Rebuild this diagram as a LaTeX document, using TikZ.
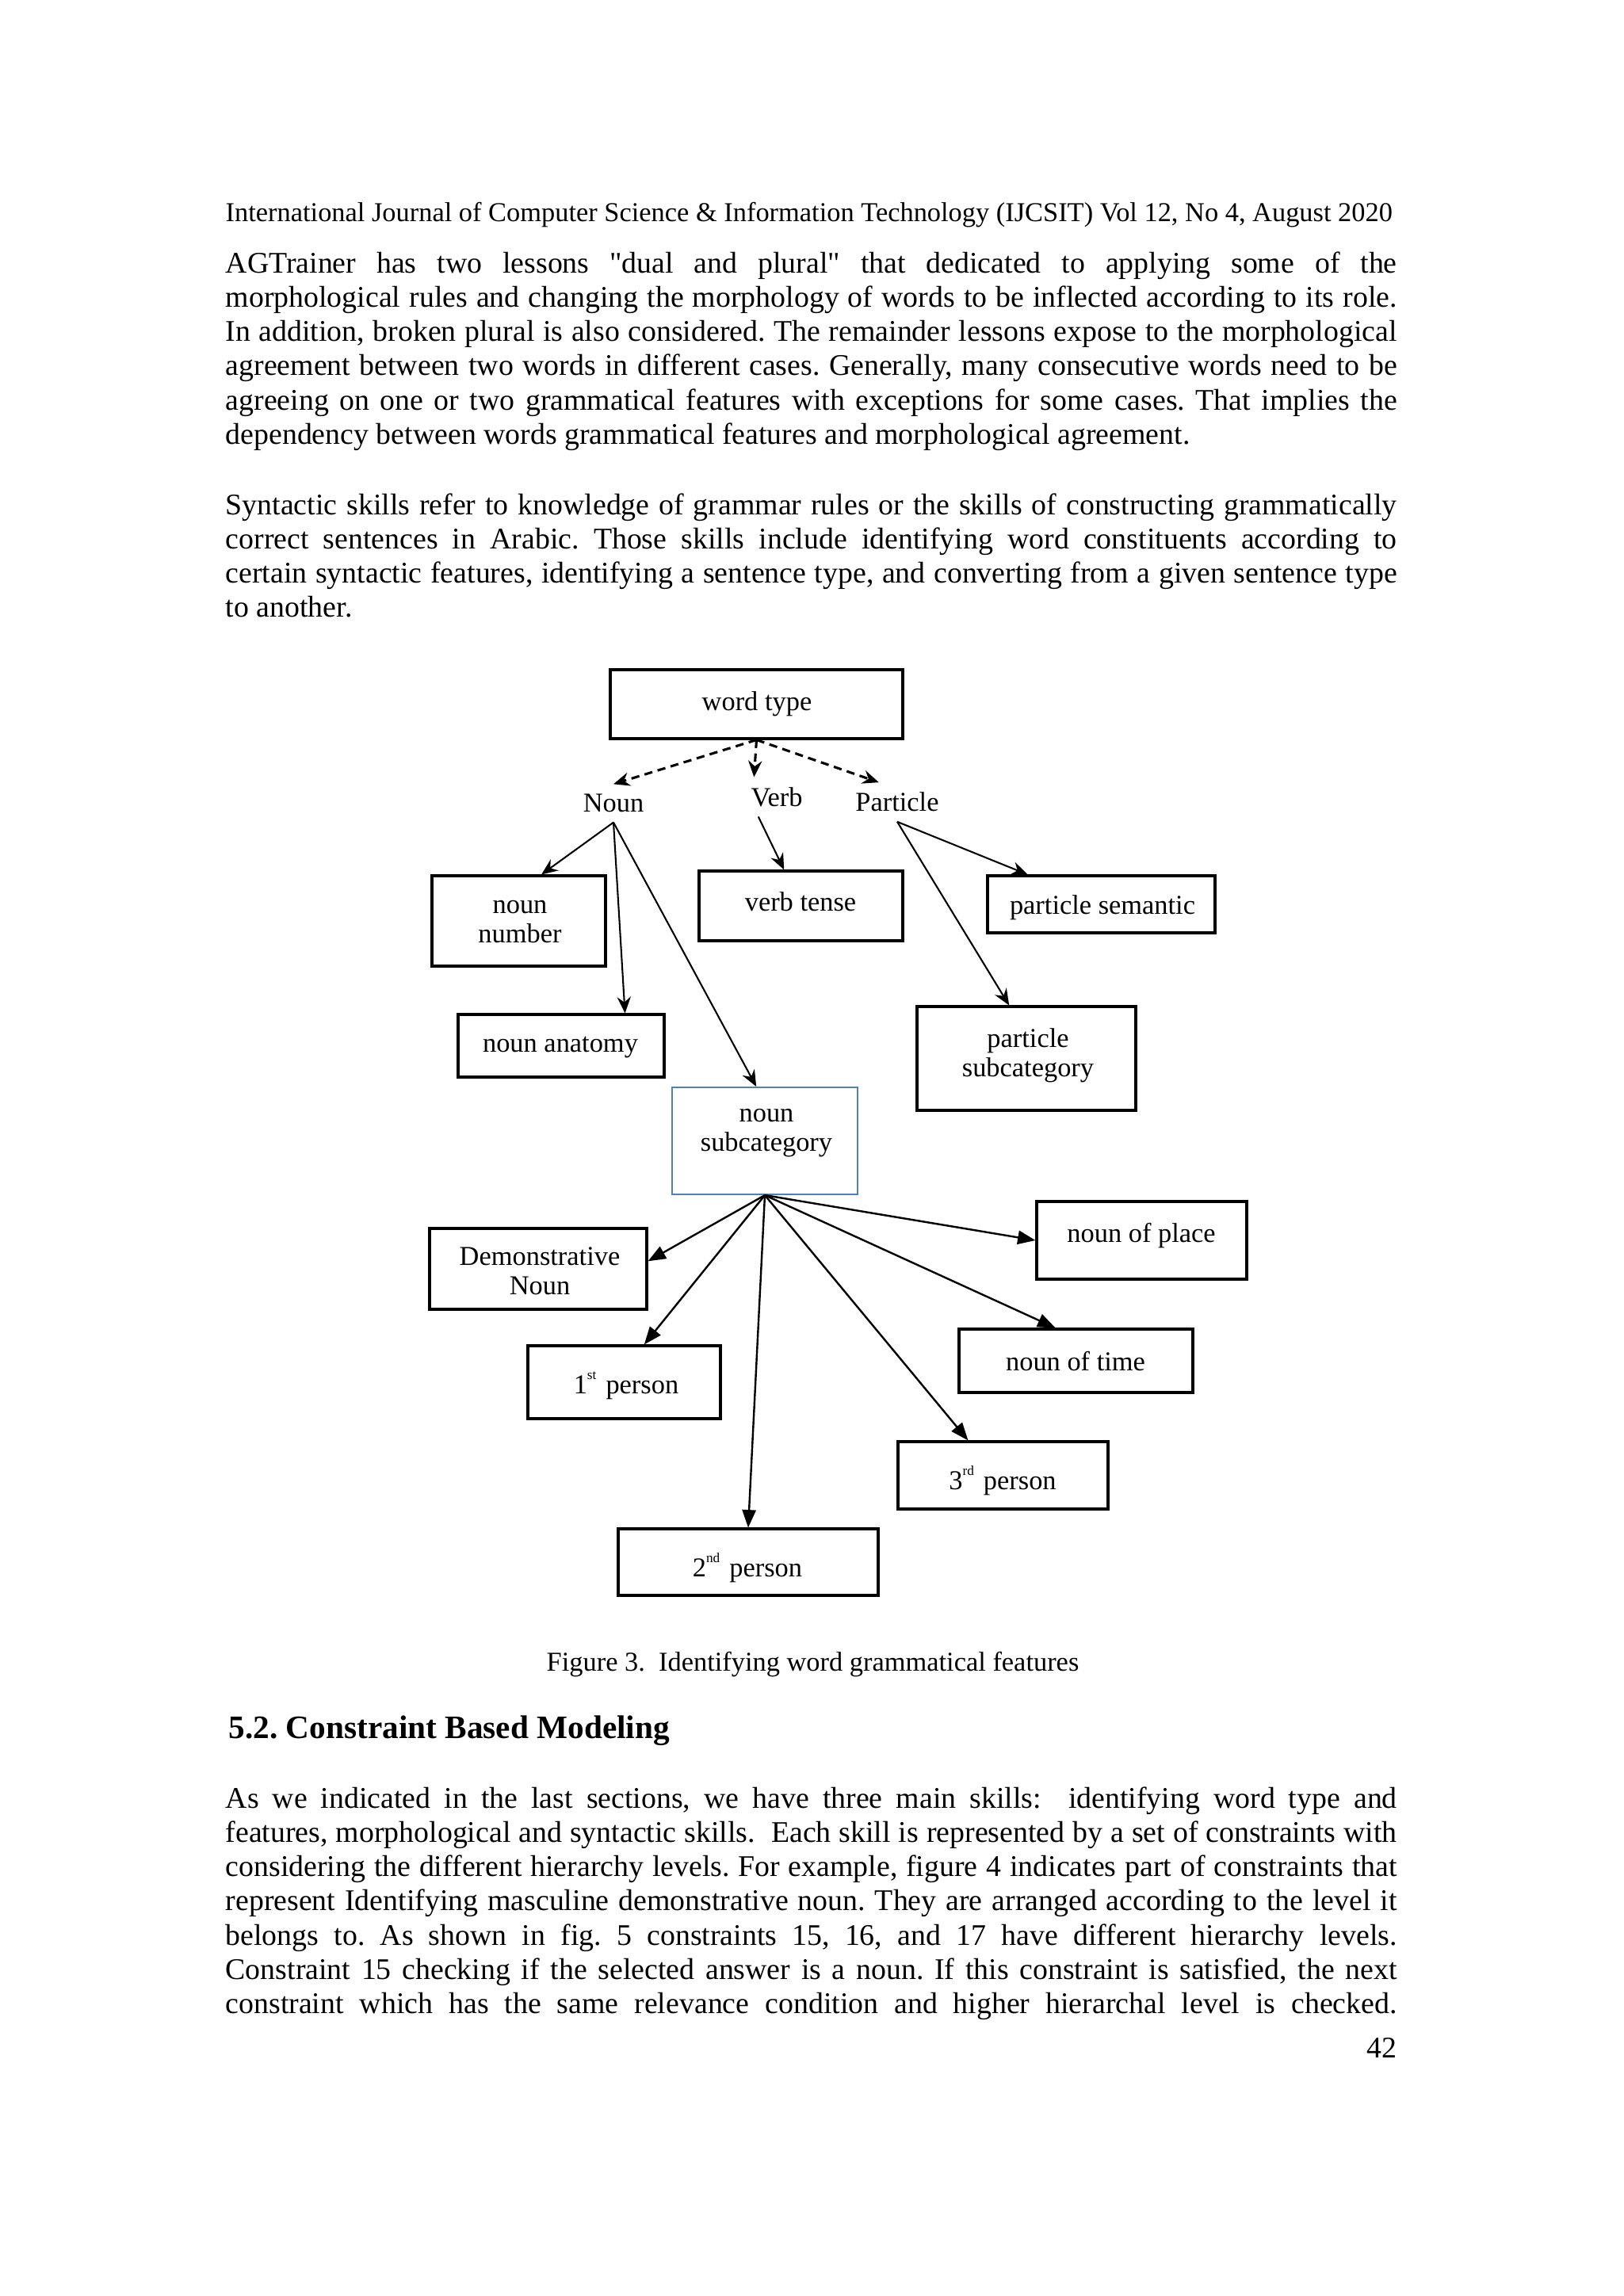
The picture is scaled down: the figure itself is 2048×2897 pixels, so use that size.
\documentclass[tikz,border=0pt]{standalone}
\usepackage{fontspec}
\setmainfont{Liberation Serif}
\newfontfamily\plainserif{Liberation Serif}
\usetikzlibrary{arrows.meta,fit}
\definecolor{boxblue}{RGB}{79,129,189}
\newdimen\tw \tw=429.6pt
\newcommand\jl[1]{\hbox to \tw{#1}}
\newcommand\sups[1]{\raisebox{1.15ex}{\fontsize{5}{5}\selectfont #1}}
\newcommand\sq{{\plainserif\char34}}
\begin{document}
\frenchspacing
\begin{tikzpicture}[x=0.29066pt,y=-0.29066pt,
  box/.style={draw, line width=0.9pt, inner sep=0pt},
  bbox/.style={draw=boxblue, line width=0.6pt, inner sep=0pt},
  lbl/.style={font=\fontsize{10}{10.8}\selectfont, align=center, inner sep=0pt},
  toplbl/.style={font=\fontsize{10}{10.8}\selectfont, inner sep=3.5pt},
  arr/.style={-{Stealth[length=6pt,width=5pt,inset=2pt]}, line width=0.6pt},
  farr/.style={-{Triangle[length=6.5pt,width=5pt]}, line width=0.7pt},
  darr/.style={-{Stealth[length=6pt,width=5pt,inset=2pt]}, line width=0.9pt, dash pattern=on 3pt off 2pt},
  txt/.style={anchor=base west, inner sep=0pt, font=\fontsize{11}{13}\selectfont},
]
\path[use as bounding box, fill=white] (0,0) rectangle (2048,2897);

% ---------- running text ----------
\node[txt, font=\fontsize{10}{12}\selectfont] (hdr) at (284,279) {International Journal of Computer Science \& Information Technology (IJCSIT) Vol 12, No 4, August 2020};

\node[txt] (pa1) at (284,344) {\jl{AGTrainer has two lessons \sq dual and plural\sq{} that dedicated to applying some of the}};
\node[txt] (pa2) at (284,387.3) {\jl{morphological rules and changing the morphology of words to be inflected according to its role.}};
\node[txt] (pa3) at (284,430.6) {\jl{In addition, broken plural is also considered. The remainder lessons expose to the morphological}};
\node[txt] (pa4) at (284,473.9) {\jl{agreement between two words in different cases. Generally, many consecutive words need to be}};
\node[txt] (pa5) at (284,517.2) {\jl{agreeing on one or two grammatical features with exceptions for some cases. That implies the}};
\node[txt] (pa6) at (284,560.5) {dependency between words grammatical features and morphological agreement.};

\node[txt] (pb1) at (284,649) {\jl{Syntactic skills refer to knowledge of grammar rules or the skills of constructing grammatically}};
\node[txt] (pb2) at (284,692.3) {\jl{correct sentences in Arabic. Those skills include identifying word constituents according to}};
\node[txt] (pb3) at (284,735.6) {\jl{certain syntactic features, identifying a sentence type, and converting from a given sentence type}};
\node[txt] (pb4) at (284,778.9) {to another.};

\node[txt, font=\fontsize{10}{12}\selectfont] (cap) at (689,2108) {Figure 3.\ \ Identifying word grammatical features};
\node[txt, font=\fontsize{12}{14}\selectfont\bfseries] (sec) at (288,2193) {5.2. Constraint Based Modeling};

\node[txt] (pc1) at (284,2281) {\jl{As we indicated in the last sections, we have three main skills:\ \ identifying word type and}};
\node[txt] (pc2) at (284,2324.3) {\jl{features, morphological and syntactic skills.\ \ Each skill is represented by a set of constraints with}};
\node[txt] (pc3) at (284,2367.6) {\jl{considering the different hierarchy levels. For example, figure 4 indicates part of constraints that}};
\node[txt] (pc4) at (284,2410.9) {\jl{represent Identifying masculine demonstrative noun. They are arranged according to the level it}};
\node[txt] (pc5) at (284,2454.2) {\jl{belongs to. As shown in fig. 5 constraints 15, 16, and 17 have different hierarchy levels.}};
\node[txt] (pc6) at (284,2497.5) {\jl{Constraint 15 checking if the selected answer is a noun. If this constraint is satisfied, the next}};
\node[txt] (pc7) at (284,2540.8) {\jl{constraint which has the same relevance condition and higher hierarchal level is checked.}};

\node[anchor=base east, inner sep=0pt, font=\fontsize{11}{13}\selectfont] (pg) at (1763,2596) {42};

% ---------- diagram boxes ----------
\node[box, fit={(770,845)(1139,932)}] (wt) {};
\node[box, fit={(545,1105)(764,1219)}] (nnum) {};
\node[box, fit={(882,1099)(1139,1187)}] (vt) {};
\node[box, fit={(1246,1105)(1533,1177)}] (ps) {};
\node[box, fit={(578,1280)(838,1359)}] (nana) {};
\node[box, fit={(1157,1270)(1433,1401)}] (psub) {};
\node[bbox, fit={(848,1372)(1082,1507)}] (nsub) {};
\node[box, fit={(542,1550)(816,1652)}] (dem) {};
\node[box, fit={(666,1698)(909,1790)}] (p1) {};
\node[box, fit={(780,1929)(1108,2013)}] (p2) {};
\node[box, fit={(1133,1819)(1398,1904)}] (p3) {};
\node[box, fit={(1210,1677)(1505,1757)}] (ntime) {};
\node[box, fit={(1308,1516)(1573,1614)}] (nplace) {};

% ---------- diagram labels ----------
\node[lbl] (wt-l) at (955,888) {word type};
\node[toplbl] (noun) at (774,1013.5) {Noun};
\node[toplbl] (verb) at (980,1005.5) {Verb};
\node[toplbl] (part) at (1132,1012) {Particle};
\node[lbl] (nnum-l) at (656,1163) {noun\\number};
\node[lbl] (vt-l) at (1010,1138) {verb tense};
\node[lbl] (ps-l) at (1391,1145) {particle semantic};
\node[lbl] (nana-l) at (707,1322) {noun anatomy};
\node[lbl] (psub-l) at (1297,1332) {particle\\subcategory};
\node[lbl] (nsub-l) at (967,1430) {noun\\subcategory};
\node[lbl] (dem-l) at (681,1604) {Demonstrative\\Noun};
\node[lbl] (p1-l) at (790,1748) {1\sups{st}\hspace{0.35em}person};
\node[lbl] (p2-l) at (943,1978) {2\sups{nd}\hspace{0.35em}person};
\node[lbl] (p3-l) at (1265,1868) {3\sups{rd}\hspace{0.35em}person};
\node[lbl] (ntime-l) at (1357,1718) {noun of time};
\node[lbl] (nplace-l) at (1440,1559) {noun of place};

% ---------- connectors ----------
\draw[darr] (wt.south) -- (noun.north);
\draw[darr] (wt.south) -- (verb.139);
\draw[darr] (wt.south) -- (part.133);

\draw[arr] (noun.south) -- (nnum.64);
\draw[arr] (noun.south) -- (nana.27);
\draw[arr] (noun.south) -- (nsub.99);
\draw[arr] (verb.227) -- (vt.115);
\draw[arr] (part.south) -- (ps.158.3);
\draw[arr] (part.south) -- (psub.108.6);

\draw[farr] (nsub.south) -- (dem.4.6);
\draw[farr] (nsub.south) -- (p1.62);
\draw[farr] (nsub.south) -- (p2.north);
\draw[farr] (nsub.south) -- (p3.135.7);
\draw[farr] (nsub.south) -- (ntime.122.5);
\draw[farr] (nsub.south) -- (nplace.west);
\end{tikzpicture}
\end{document}
